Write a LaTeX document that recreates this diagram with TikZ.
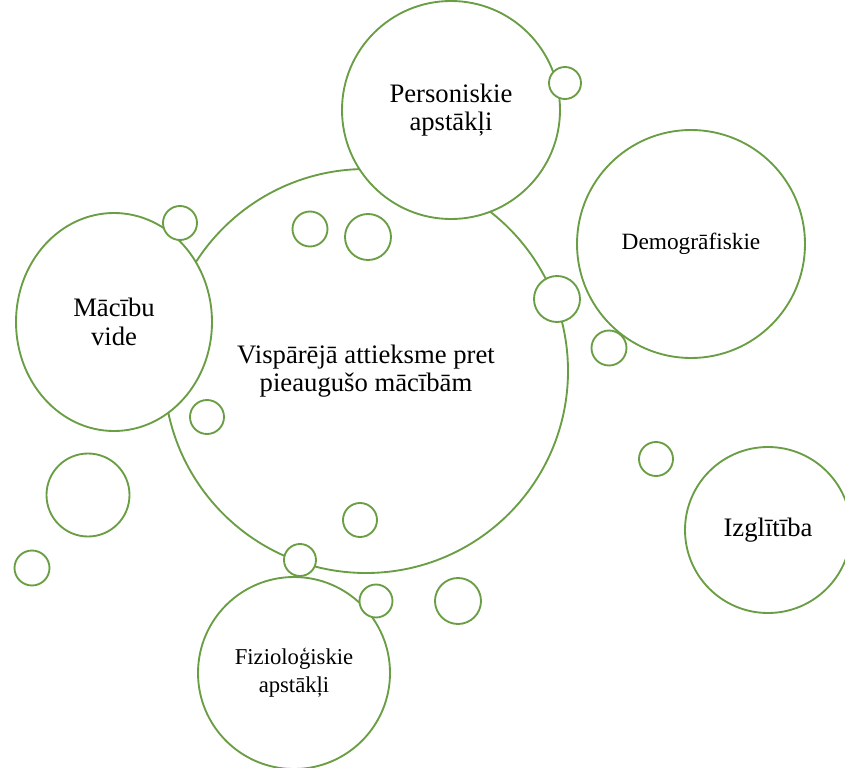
\documentclass[tikz,border=0pt]{standalone}
\usepackage{fontspec}
\setmainfont{Liberation Serif}
\newfontfamily\timesfont{Liberation Serif}
\usetikzlibrary{shapes.geometric}

\definecolor{leaf}{RGB}{106,158,68}
\tikzset{bubble/.style={circle,draw=leaf,fill=white,line width=1.4pt,inner sep=0pt,align=center,font=\timesfont\fontsize{20}{21.5}\selectfont}}
\tikzset{speck/.style={bubble}}

\begin{document}
\begin{tikzpicture}[x=0.75pt,y=-0.75pt]

\useasboundingbox (0,0) rectangle (845,767);
\clip (0,0) rectangle (845,767);

\node[bubble,minimum size=303pt] (attieksme) at (366,371) {Vispārējā attieksme pret\\pieaugušo mācībām};
\node[bubble,minimum size=163.5pt] (personiskie) at (451,110) {Personiskie\\apstākļi};
\node[bubble,ellipse,minimum width=147pt,minimum height=163.5pt] (vide) at (114,322) {Mācību\\vide};
\node[bubble,minimum size=171pt,font=\timesfont\fontsize{17.5}{19}\selectfont] (demo) at (691,244) {Demogrāfiskie};
\node[bubble,minimum size=124.5pt] (izgl) at (768,530) {Izglītība};
\node[bubble,minimum size=144pt,font=\timesfont\fontsize{17}{21}\selectfont] (fizio) at (294,673) {Fizioloģiskie\\apstākļi};

% small bubbles
\foreach \x/\y/\r [count=\i] in {180/223/17, 310/229/17.5, 368/237/23, 207/417/17, 360/520/17, 300/560/16, 557/299/23, 609/348/17.5, 656/459/17, 565/83/16, 88/495/41.5, 32/568/17.5, 376/601/16.5, 458/601/23}
  \node[speck,minimum size={1.5pt*\r}] (s\i) at (\x,\y) {};

\end{tikzpicture}
\end{document}
